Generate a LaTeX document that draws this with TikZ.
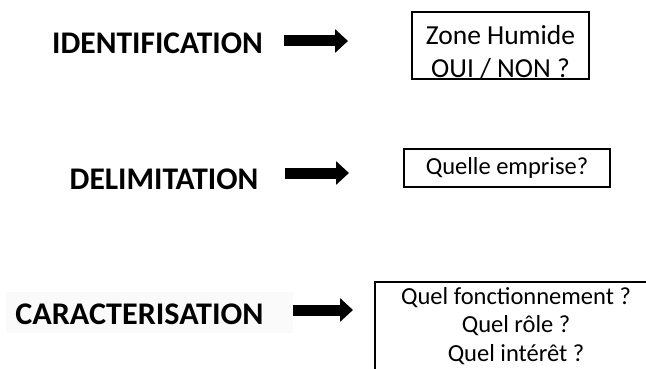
\documentclass[tikz,border=0pt]{standalone}
\usepackage{fontspec}
\setmainfont{Carlito}
\usepackage{tikz}
\usetikzlibrary{arrows.meta,calc}
\tikzset{
  etape/.style={font=\bfseries\fontsize{31.5}{36}\selectfont, inner sep=0pt},
  question/.style={draw, line width=1.2pt, inner sep=0pt},
  fleche/.style={line width=11pt, -{Triangle[width=23pt,length=13pt]}},
}
\begin{document}
\begin{tikzpicture}[x=1pt, y=-1pt]
		%%%%% START %%%%%
		\useasboundingbox (0, 0) rectangle (646, 369);
		
		\fill[color=black!2] (6, 292) rectangle (293, 333);
		
		\node[etape] (ident) at (157.5, 43) {IDENTIFICATION};
		\node[etape] (delim) at (164, 179) {DELIMITATION};
		\node[etape, xscale=1.02, transform shape] (carac) at (139.5, 314) {CARACTERISATION};
		
		\coordinate (ident-a) at (284, 41);
		\coordinate (ident-b) at (348, 41);
		\coordinate (delim-a) at (285, 173);
		\coordinate (delim-b) at (349, 173);
		\coordinate (carac-a) at (293, 310);
		\coordinate (carac-b) at (353, 310);
		\draw[fleche] (ident-a) -- (ident-b);
		\draw[fleche] (delim-a) -- (delim-b);
		\draw[fleche] (carac-a) -- (carac-b);
		
		\node[question, minimum width=177pt, minimum height=67pt] (zone) at (500.5, 45.5) {};
		\node[font=\fontsize{27.5}{33}\selectfont, align=center, inner sep=0pt] (zone-txt) at ($(zone)+(0, 7)$) {Zone Humide\\OUI / NON ?};
		
		\node[question, minimum width=206pt, minimum height=38pt, font=\fontsize{24.5}{29}\selectfont] (emprise) at (507, 168) {Quelle emprise?};
		
		\draw[line width=1.2pt] (375, 369) -- (375, 282) -- (646, 282);
		\node[font=\fontsize{24.5}{28.5}\selectfont, align=center, inner sep=0pt] (role) at (516, 326) {Quel fonctionnement ?\\Quel rôle ?\\Quel intérêt ?};
		%%%%% END %%%%%
\end{tikzpicture}
\end{document}
